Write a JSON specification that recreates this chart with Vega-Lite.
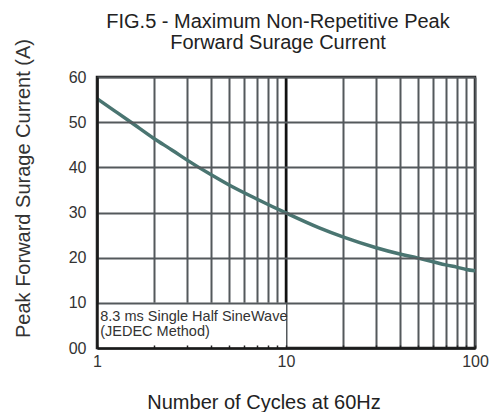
{
  "$schema": "https://vega.github.io/schema/vega-lite/v6.json",
  "width": 378,
  "height": 271,
  "autosize": "none",
  "padding": {"left": 97, "top": 77, "right": 14, "bottom": 64},
  "background": "white",
  "config": {
    "font": "Liberation Sans",
    "view": {"stroke": "#1a1a1a", "strokeWidth": 2.5}
  },
  "title": {
    "text": ["FIG.5 - Maximum Non-Repetitive Peak", "Forward Surage Current"],
    "fontSize": 20,
    "fontWeight": "normal",
    "lineHeight": 21,
    "color": "#222222",
    "anchor": "middle",
    "dx": -8,
    "dy": 41,
    "offset": 26
  },
  "datasets": {
    "curve": [
      {"cycles": 1, "current": 55.2},
      {"cycles": 1.25, "current": 52.4},
      {"cycles": 1.5, "current": 50.1},
      {"cycles": 2, "current": 46.4},
      {"cycles": 2.5, "current": 43.8},
      {"cycles": 3, "current": 41.6},
      {"cycles": 4, "current": 38.4},
      {"cycles": 5, "current": 36.1},
      {"cycles": 7, "current": 33.0},
      {"cycles": 10, "current": 29.9},
      {"cycles": 15, "current": 26.6},
      {"cycles": 20, "current": 24.6},
      {"cycles": 30, "current": 22.2},
      {"cycles": 40, "current": 20.8},
      {"cycles": 50, "current": 19.9},
      {"cycles": 60, "current": 19.1},
      {"cycles": 70, "current": 18.4},
      {"cycles": 80, "current": 17.9},
      {"cycles": 90, "current": 17.4},
      {"cycles": 100, "current": 17.1}
    ],
    "box": [{"x1": 1, "x2": 10, "y1": 0, "y2": 10}],
    "marker": [{"x": 10, "y1": 10, "y2": 60}],
    "note": [{"x": 1.04, "y": 6.0, "text": "8.3 ms Single Half SineWave\n(JEDEC Method)"}]
  },
  "layer": [
    {
      "layer": [
        {
          "data": {"name": "box"},
          "mark": {"type": "rect", "fill": "white", "stroke": null},
          "encoding": {
            "x": {
              "field": "x1", "type": "quantitative",
              "scale": {"type": "log", "domain": [1, 100], "nice": false},
              "axis": {
                "values": [1, 2, 3, 4, 5, 6, 7, 8, 9, 10, 20, 30, 40, 50, 60, 70, 80, 90, 100],
                "grid": true, "gridColor": "#54595c", "gridWidth": 2,
                "labels": false, "ticks": false, "domain": false, "title": null,
                "zindex": 0
              }
            },
            "x2": {"field": "x2"},
            "y": {
              "field": "y1", "type": "quantitative",
              "scale": {"domain": [0, 60], "nice": false},
              "axis": {
                "values": [0, 10, 20, 30, 40, 50, 60],
                "grid": true, "gridColor": "#54595c", "gridWidth": 2,
                "ticks": false,
                "domain": true, "domainColor": "#1a1a1a", "domainWidth": 2.5,
                "labelExpr": "datum.value == 0 ? '00' : datum.label",
                "labelFontSize": 16, "labelColor": "#333333", "labelPadding": 11,
                "title": "Peak Forward Surage Current (A)",
                "titleFontSize": 20, "titleFontWeight": "normal", "titleColor": "#333333",
                "titleAngle": 270, "titleBaseline": "alphabetic", "titleAlign": "center",
                "titleX": -68, "titleY": 111,
                "zindex": 1
              }
            },
            "y2": {"field": "y2"}
          }
        },
        {
          "data": {"name": "marker"},
          "mark": {"type": "rule", "color": "#111111", "strokeWidth": 2.5},
          "encoding": {
            "x": {"field": "x", "type": "quantitative"},
            "y": {"field": "y1", "type": "quantitative"},
            "y2": {"field": "y2"}
          }
        },
        {
          "data": {"name": "curve"},
          "mark": {"type": "line", "color": "#4a7571", "strokeWidth": 3.5, "interpolate": "monotone"},
          "encoding": {
            "x": {"field": "cycles", "type": "quantitative"},
            "y": {"field": "current", "type": "quantitative"}
          }
        }
      ]
    },
    {
      "data": {"name": "note"},
      "mark": {"type": "text", "align": "left", "baseline": "alphabetic", "fontSize": 14.5, "lineHeight": 15.5, "lineBreak": "\n", "color": "#333333"},
      "encoding": {
        "x": {
          "field": "x", "type": "quantitative",
          "axis": {
            "orient": "bottom",
            "values": [1, 2, 3, 4, 5, 6, 7, 8, 9, 10, 20, 30, 40, 50, 60, 70, 80, 90, 100],
            "grid": false,
            "ticks": true, "tickSize": -3, "tickColor": "#222222", "tickWidth": 1.5,
            "domain": true, "domainColor": "#1a1a1a", "domainWidth": 2.5,
            "labelExpr": "datum.value == 1 || datum.value == 10 || datum.value == 100 ? datum.label : ''",
            "labelFontSize": 16, "labelColor": "#333333", "labelPadding": 8,
            "labelFlush": false, "labelOverlap": false, "labelBaseline": "top",
            "title": "Number of Cycles at 60Hz",
            "titleFontSize": 20, "titleFontWeight": "normal", "titleColor": "#222222",
            "titleBaseline": "alphabetic", "titleAlign": "center",
            "titleX": 166.5, "titleY": 60,
            "zindex": 1
          }
        },
        "y": {"field": "y", "type": "quantitative"},
        "text": {"field": "text"}
      }
    }
  ],
  "resolve": {"axis": {"x": "independent"}}
}
